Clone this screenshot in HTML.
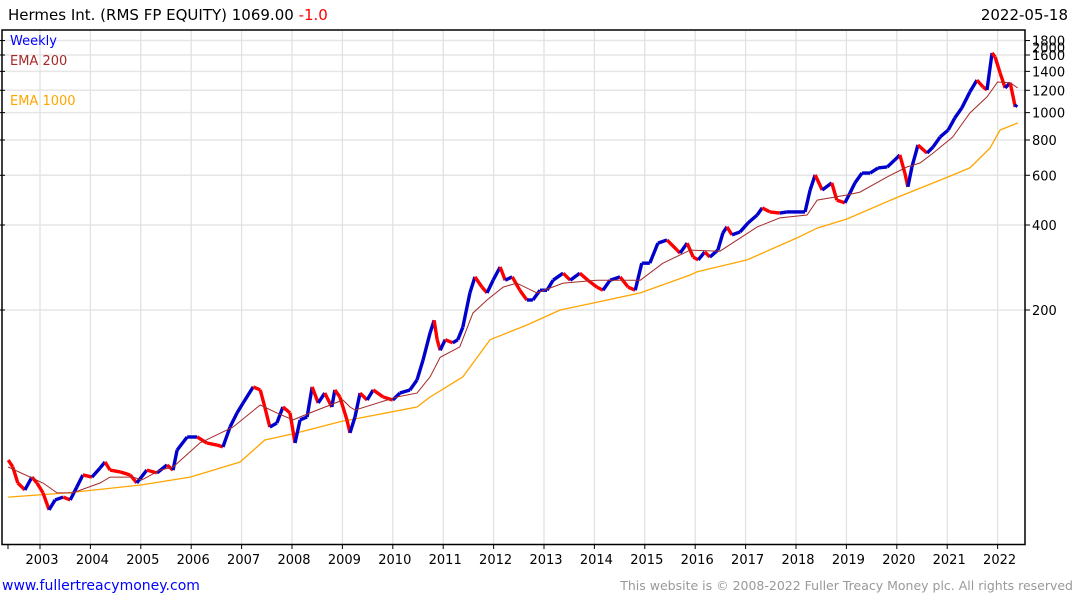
<!DOCTYPE html>
<html><head><meta charset="utf-8"><style>
body{margin:0;background:#fff;width:1075px;height:600px;overflow:hidden;font-family:"Liberation Sans","DejaVu Sans",sans-serif}
svg text{font-family:"DejaVu Sans","Liberation Sans",sans-serif}
</style></head><body>
<svg id="chart" width="1075" height="600" xmlns="http://www.w3.org/2000/svg">
<text x="8" y="20" font-size="15" fill="#000">Hermes Int. (RMS FP EQUITY) 1069.00 <tspan fill="#f00">-1.0</tspan></text>
<text x="1068" y="20" font-size="15" fill="#000" text-anchor="end">2022-05-18</text>
<g id="grid"></g>
<g id="series"></g>
<rect x="2" y="30" width="1023" height="514.5" fill="none" stroke="#000" stroke-width="1.5"/>
<g id="axes"></g>
<text x="10" y="45" font-size="13" fill="#0000ff">Weekly</text>
<text x="10" y="65" font-size="13" fill="#a52a2a">EMA 200</text>
<text x="10" y="105" font-size="13" fill="#ffa500">EMA 1000</text>
<text x="2" y="590" font-size="14" fill="#0000ff">www.fullertreacymoney.com</text>
<text x="1073" y="590" font-size="12.5" fill="#999" text-anchor="end">This website is © 2008-2022 Fuller Treacy Money plc. All rights reserved</text>
</svg>
<script>
const priceDates=[2002.37,2002.46,2002.56,2002.70,2002.84,2002.94,2003.06,2003.18,2003.30,2003.46,2003.60,2003.73,2003.85,2004.03,2004.19,2004.29,2004.39,2004.59,2004.79,2004.92,2005.12,2005.32,2005.52,2005.64,2005.72,2005.92,2006.12,2006.31,2006.51,2006.63,2006.77,2006.91,2007.03,2007.23,2007.37,2007.46,2007.56,2007.70,2007.82,2007.96,2008.06,2008.16,2008.30,2008.40,2008.52,2008.65,2008.79,2008.85,2008.95,2009.09,2009.15,2009.25,2009.35,2009.49,2009.61,2009.81,2010.00,2010.14,2010.34,2010.48,2010.60,2010.74,2010.82,2010.88,2010.94,2011.04,2011.19,2011.29,2011.39,2011.53,2011.63,2011.77,2011.87,2011.99,2012.13,2012.23,2012.37,2012.52,2012.66,2012.78,2012.92,2013.06,2013.18,2013.38,2013.52,2013.71,2013.87,2014.05,2014.17,2014.31,2014.51,2014.67,2014.81,2014.94,2015.10,2015.26,2015.44,2015.64,2015.70,2015.84,2015.96,2016.06,2016.19,2016.29,2016.45,2016.55,2016.63,2016.73,2016.89,2017.05,2017.23,2017.33,2017.48,2017.68,2017.82,2017.98,2018.18,2018.28,2018.38,2018.52,2018.71,2018.81,2018.97,2019.07,2019.17,2019.31,2019.47,2019.63,2019.81,2019.96,2020.06,2020.16,2020.22,2020.30,2020.42,2020.60,2020.72,2020.86,2021.02,2021.15,2021.29,2021.45,2021.59,2021.71,2021.79,2021.89,2021.95,2022.05,2022.15,2022.25,2022.35,2022.38];
const priceValues=[58.8,55.6,48.8,46.1,51.2,48.8,45.0,39.2,42.5,43.5,42.5,47.2,52.1,51.2,55.1,57.9,54.2,53.4,52.1,48.8,54.2,53.0,56.5,54.2,63.8,71.0,71.0,67.6,66.5,65.5,77.0,86.4,93.7,106.8,104.2,90.7,77.0,79.6,90.7,86.4,67.6,81.6,83.6,106.8,93.7,101.6,90.7,104.2,98.4,81.6,73.4,83.6,101.6,96.0,104.2,98.4,96.0,101.6,104.2,113,133,166,184,157,144,157,153,157,174,230,262,241,230,255,284,255,262,235,217,217,235,235,255,270,255,270,255,241,235,255,262,241,235,293,293,345,354,326,318,345,308,301,321,308,326,375,394,369,378,407,434,460,445,441,445,445,445,532,602,532,564,490,479,519,564,611,611,637,642,680,708,611,546,642,768,719,756,820,868,957,1039,1184,1304,1234,1204,1627,1575,1381,1223,1275,1047,1069];
const ema200Dates=[2002.37,2003.06,2003.34,2003.65,2004.19,2004.39,2004.85,2005.02,2005.38,2005.64,2006.17,2006.83,2007.37,2007.70,2008.02,2008.36,2009.01,2009.15,2009.25,2010.08,2010.48,2010.74,2010.94,2011.33,2011.59,2011.87,2012.19,2012.46,2012.86,2013.38,2014.05,2014.45,2014.91,2015.36,2015.90,2016.49,2017.23,2017.68,2018.22,2018.42,2019.01,2019.27,2019.81,2020.20,2020.46,2020.72,2021.11,2021.45,2021.79,2022.00,2022.25,2022.40];
const ema200Values=[55.6,48.8,45,45,48.8,51.2,51.2,50.0,54.2,55.6,67.6,77,92.2,86.4,81.6,86.4,96.0,90.7,88.4,98.4,101.6,116,136,148,195,217,241,249,230,249,255,255,255,293,326,323,394,424,434,490,511,523,592,642,663,719,820,997,1137,1284,1275,1223];
const ema1000Dates=[2002.37,2003.54,2005.00,2005.98,2006.97,2007.46,2008.02,2009.01,2009.15,2010.48,2010.74,2011.39,2011.93,2012.66,2013.32,2014.05,2014.91,2015.90,2016.04,2017.03,2018.02,2018.42,2019.01,2020.02,2021.02,2021.45,2021.85,2022.05,2022.40];
const ema1000Values=[43.5,45.0,48.0,51.2,57.9,69.3,72.8,80.9,81.6,90.7,98.4,116,157,177,200,213,230,266,273,301,360,390,420,502,592,637,749,868,919];
const yTicks=[200,400,600,800,1000,1200,1400,1600,1800];
const xTickYears=[2003,2004,2005,2006,2007,2008,2009,2010,2011,2012,2013,2014,2015,2016,2017,2018,2019,2020,2021,2022];

const NS='http://www.w3.org/2000/svg';
function xs(t){return 40+50.4*(t-2003);}
function ys(p){return 225-85*Math.log2(p/400);}
function mk(tag,attrs,parent){const e=document.createElementNS(NS,tag);for(const k in attrs)e.setAttribute(k,attrs[k]);parent.appendChild(e);return e;}
const grid=document.getElementById('grid'),axes=document.getElementById('axes'),series=document.getElementById('series');
yTicks.forEach(v=>{
  const y=ys(v);
  const gl=mk('line',{x1:2,x2:1025,y1:y,y2:y,stroke:'#e6e6e6','stroke-width':1.5},grid);
  
  
  const tk=mk('line',{x1:1025,x2:1030,y1:y,y2:y,stroke:'#000'},axes);
  
  
  const lt=mk('line',{x1:0,x2:5,y1:y,y2:y,stroke:'#000'},axes);
  
  
  const tx=mk('text',{x:1032,y:y+5,'font-size':13,fill:'#000'},axes);
  tx.textContent=v;
  
  
});
const ov=mk('text',{x:1032,y:ys(1700)+5,'font-size':13,fill:'#000'},axes);
ov.textContent='2000';


xTickYears.forEach(yr=>{
  const x=xs(yr);
  const gl=mk('line',{x1:x,x2:x,y1:30,y2:544,stroke:'#e0e0e0','stroke-width':1.2},grid);
  
  
  const tk=mk('line',{x1:x,x2:x,y1:544,y2:549,stroke:'#000'},axes);
  
  
  const tx=mk('text',{x:x+2,y:564,'font-size':13,fill:'#000','text-anchor':'middle'},axes);
  tx.textContent=yr;
  
  
});
const t0=mk('line',{x1:8,x2:8,y1:544,y2:549,stroke:'#000'},axes);


function pathOf(d,v){return d.map((t,i)=>(i?'L':'M')+xs(t).toFixed(1)+','+ys(v[i]).toFixed(1)).join('');}
const e1=mk('path',{d:pathOf(ema1000Dates,ema1000Values),fill:'none',stroke:'#ffa500','stroke-width':1.3,'stroke-linejoin':'round'},series);


for(let i=1;i<priceDates.length;i++){
  const up=priceValues[i]>=priceValues[i-1];
  const s=mk('line',{x1:xs(priceDates[i-1]),y1:ys(priceValues[i-1]),x2:xs(priceDates[i]),y2:ys(priceValues[i]),stroke:up?'#0000cc':'#ff0000','stroke-width':3.4,'stroke-linecap':'butt'},series);
  
  
}
const e2=mk('path',{d:pathOf(ema200Dates,ema200Values),fill:'none',stroke:'#a52a2a','stroke-width':1},series);


</script>
</body></html>
